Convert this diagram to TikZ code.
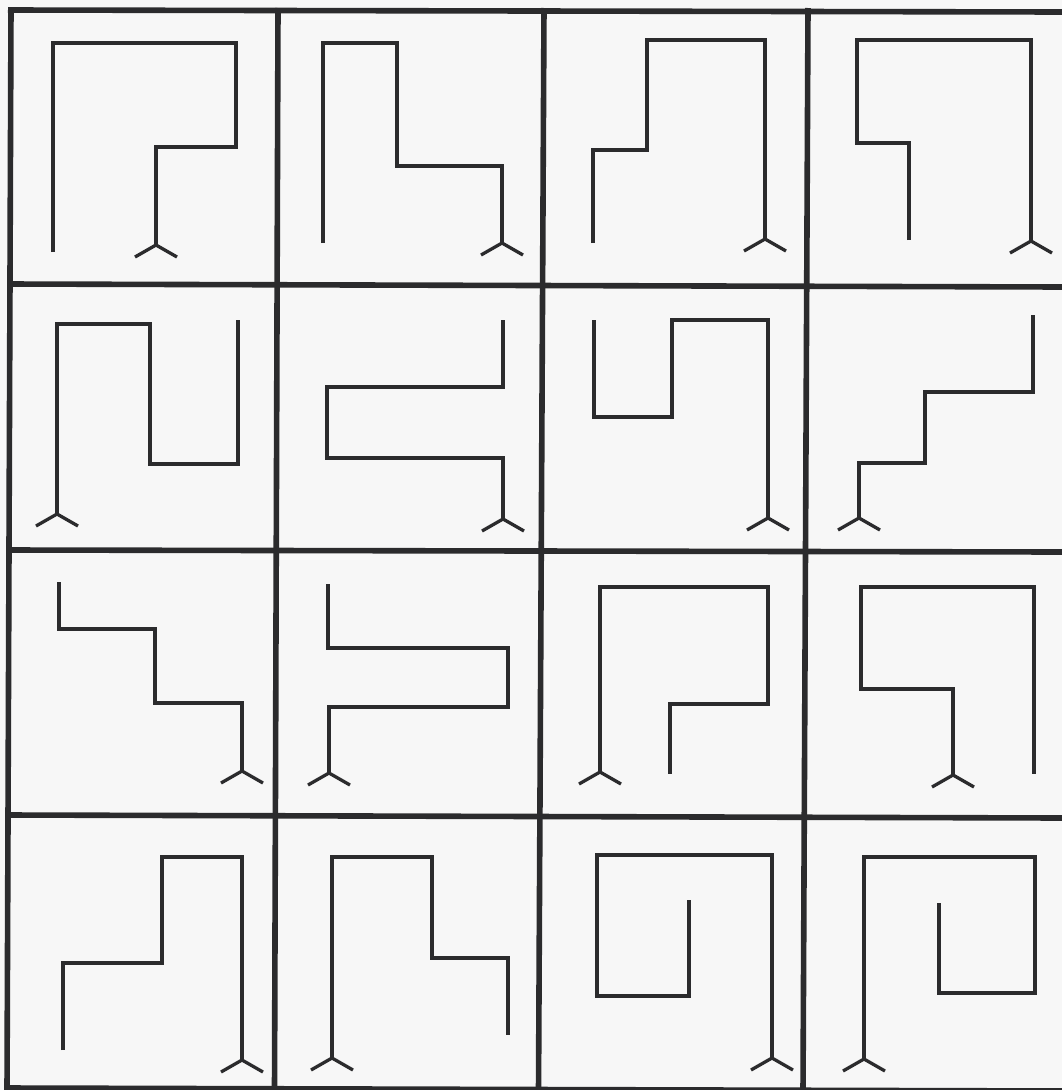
\documentclass[tikz,border=0pt]{standalone}
\definecolor{ink}{HTML}{2B2B2D}
\definecolor{paper}{HTML}{F7F7F7}
\tikzset{
  gridline/.style={draw=ink,line width=5.6pt},
  figline/.style={draw=ink,line width=3.3pt,line join=miter},
  forkY/.pic={\draw[figline] (-21,12) -- (0,0) -- (21,12);}
}
\begin{document}
\begin{tikzpicture}[x=1pt,y=-1pt]
\fill[paper] (0,0) rectangle (1062,1090);
\useasboundingbox (0,0) rectangle (1062,1090);
% grid
\draw[gridline] (11,8) -- (7,1092);
\draw[gridline] (278,8) -- (274.5,1092);
\draw[gridline] (544,8) -- (538.5,1092);
\draw[gridline] (808,8) -- (803,1092);
\draw[gridline] (8,10) -- (1062,12);
\draw[gridline] (8,284) -- (1062,287);
\draw[gridline] (8,550) -- (1062,552);
\draw[gridline] (8,815) -- (1062,818);
\draw[gridline] (8,1088) -- (1062,1091);
% row 1
\draw[figline] (53,252) -- (53,43) -- (236,43) -- (236,147) -- (156,147) -- (156,245);
\pic at (156,245) {forkY};
\draw[figline] (323,243) -- (323,43) -- (397,43) -- (397,166) -- (502,166) -- (502,243);
\pic at (502,243) {forkY};
\draw[figline] (593,243) -- (593,150) -- (647,150) -- (647,40) -- (765,40) -- (765,239);
\pic at (765,239) {forkY};
\draw[figline] (909,240) -- (909,143) -- (857,143) -- (857,40) -- (1031,40) -- (1031,241);
\pic at (1031,241) {forkY};
% row 2
\draw[figline] (57,514) -- (57,324) -- (150,324) -- (150,464) -- (238,464) -- (238,320);
\pic at (57,514) {forkY};
\draw[figline] (503,320) -- (503,387) -- (327,387) -- (327,458) -- (503,458) -- (503,519);
\pic at (503,519) {forkY};
\draw[figline] (594,320) -- (594,417) -- (672,417) -- (672,320) -- (768,320) -- (768,518);
\pic at (768,518) {forkY};
\draw[figline] (1033,315) -- (1033,392) -- (925,392) -- (925,463) -- (859,463) -- (859,518);
\pic at (859,518) {forkY};
% row 3
\draw[figline] (59,582) -- (59,629) -- (155,629) -- (155,703) -- (242,703) -- (242,771);
\pic at (242,771) {forkY};
\draw[figline] (328,584) -- (328,648) -- (508,648) -- (508,707) -- (329,707) -- (329,773);
\pic at (329,773) {forkY};
\draw[figline] (600,772) -- (600,587) -- (768,587) -- (768,704) -- (670,704) -- (670,774);
\pic at (600,772) {forkY};
\draw[figline] (953,775) -- (953,689) -- (861,689) -- (861,587) -- (1034,587) -- (1034,774);
\pic at (953,775) {forkY};
% row 4
\draw[figline] (63,1050) -- (63,963) -- (162,963) -- (162,857) -- (242,857) -- (242,1060);
\pic at (242,1060) {forkY};
\draw[figline] (332,1058) -- (332,857) -- (432,857) -- (432,958) -- (508,958) -- (508,1035);
\pic at (332,1058) {forkY};
\draw[figline] (689,900) -- (689,996) -- (597,996) -- (597,855) -- (772,855) -- (772,1058);
\pic at (772,1058) {forkY};
\draw[figline] (939,903) -- (939,993) -- (1035,993) -- (1035,857) -- (864,857) -- (864,1059);
\pic at (864,1059) {forkY};
\end{tikzpicture}
\end{document}
